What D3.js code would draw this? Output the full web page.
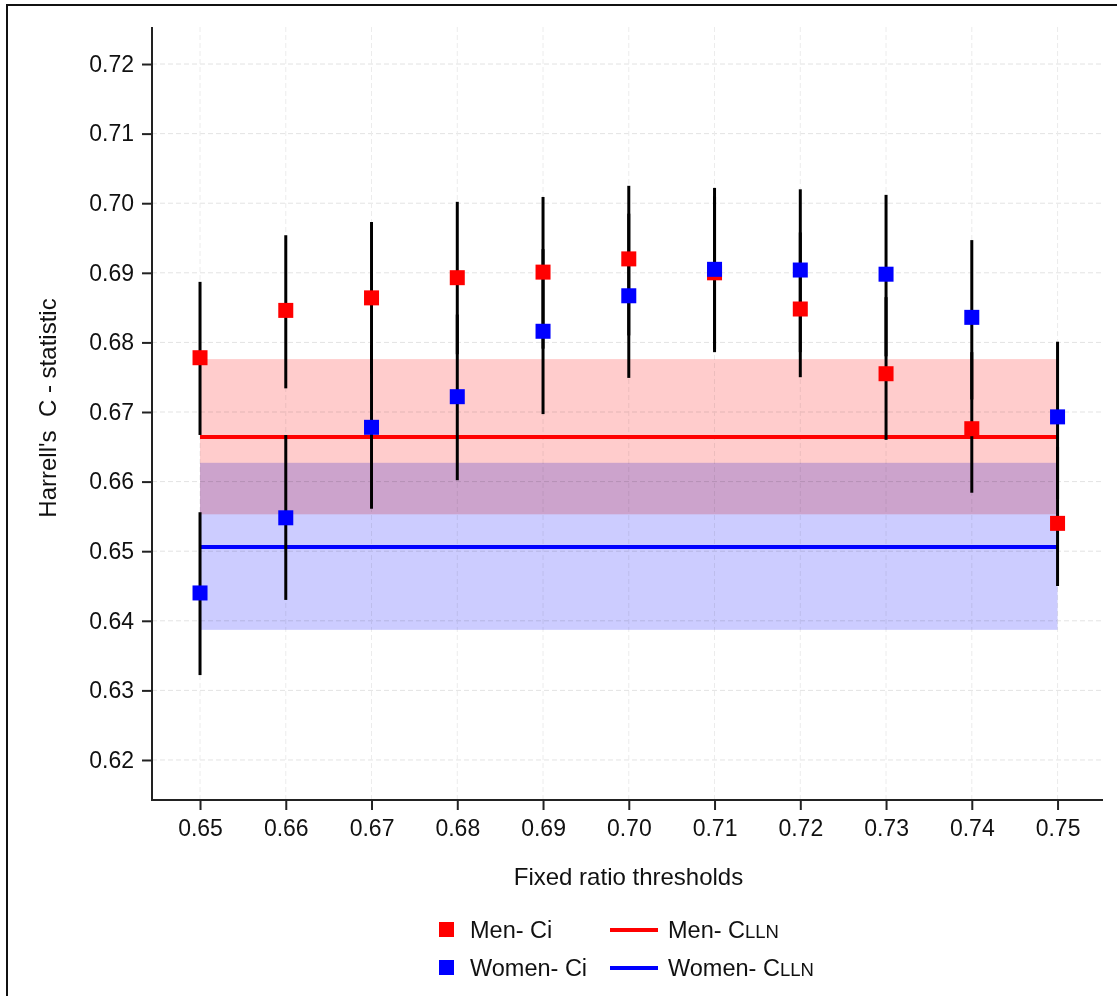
<!DOCTYPE html>
<html>
<head>
<meta charset="utf-8">
<script src="https://cdn.jsdelivr.net/npm/d3@7"></script>
<style>
  html, body { margin: 0; padding: 0; background: #fff; }
  svg { display: block; font-family: "Liberation Sans", Arial, sans-serif; }
  .band { mix-blend-mode: multiply; }
</style>
</head>
<body>
<svg id="chart" width="1117" height="996"></svg>
<script>
// Fixed ratio thresholds (x categories)
const thresholds = [0.65, 0.66, 0.67, 0.68, 0.69, 0.70, 0.71, 0.72, 0.73, 0.74, 0.75];

// Harrell's C for each threshold, with 95% confidence limits
const menC      = [0.6778, 0.6846, 0.6864, 0.6893, 0.6901, 0.6920, 0.6900, 0.6848, 0.6755, 0.6676, 0.6540];
const menLow    = [0.6667, 0.6734, 0.6755, 0.6783, 0.6791, 0.6810, 0.6790, 0.6750, 0.6660, 0.6584, 0.6450];
const menHigh   = [0.6887, 0.6954, 0.6973, 0.7002, 0.7009, 0.7025, 0.7010, 0.6958, 0.6865, 0.6786, 0.6650];
const womenC    = [0.6440, 0.6548, 0.6678, 0.6722, 0.6816, 0.6867, 0.6905, 0.6904, 0.6898, 0.6836, 0.6693];
const womenLow  = [0.6322, 0.6430, 0.6561, 0.6602, 0.6697, 0.6749, 0.6786, 0.6786, 0.6780, 0.6718, 0.6575];
const womenHigh = [0.6556, 0.6667, 0.6796, 0.6840, 0.6934, 0.6985, 0.7022, 0.7020, 0.7012, 0.6947, 0.6801];

// C-statistic of the LLN reference and its confidence band
const menLLN   = { c: 0.6664, low: 0.6553, high: 0.6776 };
const womenLLN = { c: 0.6506, low: 0.6387, high: 0.6627 };

const yTicks = [0.62, 0.63, 0.64, 0.65, 0.66, 0.67, 0.68, 0.69, 0.70, 0.71, 0.72];

const RED = "#ff0000", BLUE = "#0000ff";

const svg = d3.select("#chart");

// outer frame (partly outside the canvas on right and bottom)
svg.append("rect").attr("x", 7).attr("y", 5).attr("width", 1130).attr("height", 1010)
  .attr("fill", "none").attr("stroke", "#111").attr("stroke-width", 2);

const plot = { left: 152, right: 1103, top: 27, bottom: 800 };

const x = d3.scaleLinear().domain([0.6444, 0.7553]).range([plot.left, plot.right]);
const y = d3.scaleLinear().domain([0.61425, 0.72532]).range([plot.bottom, plot.top]);

// dotted grid
const grid = svg.append("g");
grid.selectAll("line.gy").data(yTicks).join("line")
  .attr("x1", plot.left).attr("x2", plot.right)
  .attr("y1", d => y(d)).attr("y2", d => y(d))
  .attr("stroke", "#e3e3e3").attr("stroke-width", 1).attr("stroke-dasharray", "5,3");
grid.selectAll("line.gx").data(thresholds).join("line")
  .attr("y1", plot.top).attr("y2", plot.bottom)
  .attr("x1", d => x(d)).attr("x2", d => x(d))
  .attr("stroke", "#ececec").attr("stroke-width", 1).attr("stroke-dasharray", "5,3");

// confidence bands of the LLN C-statistics
const xMin = d3.min(thresholds), xMax = d3.max(thresholds);
const bands = [
  { band: menLLN, fill: "#ffcccc" },
  { band: womenLLN, fill: "#ccccff" }
];
svg.append("g").selectAll("rect").data(bands).join("rect")
  .attr("class", "band")
  .attr("x", x(xMin)).attr("width", x(xMax) - x(xMin))
  .attr("y", d => y(d.band.high)).attr("height", d => y(d.band.low) - y(d.band.high))
  .attr("fill", d => d.fill);

// LLN reference lines
svg.append("g").selectAll("line").data([{ v: menLLN.c, c: RED }, { v: womenLLN.c, c: BLUE }]).join("line")
  .attr("x1", x(xMin)).attr("x2", x(xMax))
  .attr("y1", d => y(d.v)).attr("y2", d => y(d.v))
  .attr("stroke", d => d.c).attr("stroke-width", 4);

// confidence intervals
const ci = [];
thresholds.forEach((t, i) => {
  ci.push({ t, lo: menLow[i], hi: menHigh[i] });
  ci.push({ t, lo: womenLow[i], hi: womenHigh[i] });
});
svg.append("g").selectAll("line").data(ci).join("line")
  .attr("x1", d => x(d.t)).attr("x2", d => x(d.t))
  .attr("y1", d => y(d.hi)).attr("y2", d => y(d.lo))
  .attr("stroke", "#000").attr("stroke-width", 3);

// point estimates
const S = 15;
function squares(vals, color) {
  svg.append("g").selectAll("rect").data(thresholds.map((t, i) => ({ t, v: vals[i] }))).join("rect")
    .attr("x", d => x(d.t) - S / 2).attr("y", d => y(d.v) - S / 2)
    .attr("width", S).attr("height", S).attr("fill", color);
}
squares(menC, RED);
squares(womenC, BLUE);

// axes
const yAxis = d3.axisLeft(y).tickValues(yTicks).tickFormat(d3.format(".2f")).tickSize(10).tickPadding(8);
const gy = svg.append("g").attr("transform", `translate(${plot.left},0)`).call(yAxis);
const xAxis = d3.axisBottom(x).tickValues(thresholds).tickFormat(d3.format(".2f")).tickSize(10).tickPadding(10);
const gx = svg.append("g").attr("transform", `translate(0,${plot.bottom})`).call(xAxis);
[gx, gy].forEach(g => {
  g.select(".domain").remove();
  g.selectAll(".tick line").attr("stroke", "#222").attr("stroke-width", 2);
  g.selectAll(".tick text").attr("fill", "#111").attr("font-size", 23)
    .attr("font-family", "'Liberation Sans', Arial, sans-serif");
});
svg.append("path")
  .attr("d", `M${plot.left},${plot.top}V${plot.bottom}H${plot.right}`)
  .attr("fill", "none").attr("stroke", "#222").attr("stroke-width", 2);

// axis titles
svg.append("text").attr("x", (plot.left + plot.right) / 2 + 1).attr("y", 885)
  .attr("text-anchor", "middle").attr("font-size", 24).attr("fill", "#111")
  .text("Fixed ratio thresholds");
svg.append("text").attr("transform", "translate(56,408) rotate(-90)")
  .attr("text-anchor", "middle").attr("font-size", 24).attr("fill", "#111")
  .attr("xml:space", "preserve")
  .text("Harrell's  C - statistic");

// legend
const legend = svg.append("g");
const rows = [
  { label: "Men", c: RED, y: 930 },
  { label: "Women", c: BLUE, y: 968 }
];
rows.forEach(r => {
  legend.append("rect").attr("x", 439).attr("y", r.y - 8).attr("width", 15).attr("height", 15).attr("fill", r.c);
  legend.append("text").attr("x", 470).attr("y", r.y + 8).attr("font-size", 23.5).attr("fill", "#111")
    .text(r.label + "- Ci");
  legend.append("line").attr("x1", 610).attr("x2", 658).attr("y1", r.y).attr("y2", r.y)
    .attr("stroke", r.c).attr("stroke-width", 4);
  const t = legend.append("text").attr("x", 668).attr("y", r.y + 8).attr("font-size", 23.5).attr("fill", "#111");
  t.append("tspan").text(r.label + "- C");
  t.append("tspan").attr("font-size", 18.5).text("LLN");
});
</script>
</body>
</html>
